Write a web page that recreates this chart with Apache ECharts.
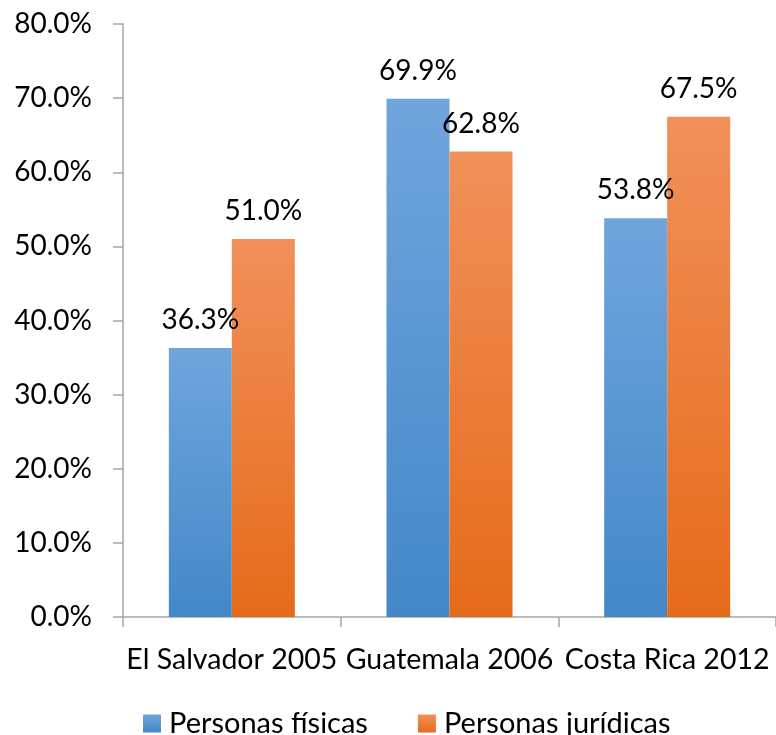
<!DOCTYPE html>
<html>
<head>
<meta charset="utf-8">
<script src="https://cdn.jsdelivr.net/npm/echarts@6/dist/echarts.min.js"></script>
<style>html,body{margin:0;padding:0;background:#fff}#c{width:776px;height:735px}</style>
</head>
<body>
<div id="c"></div>
<script>
var categories = ['El Salvador 2005', 'Guatemala 2006', 'Costa Rica 2012'];
var fisicas = [36.3, 69.9, 53.8];
var juridicas = [51.0, 62.8, 67.5];
var seriesNames = ['Personas físicas', 'Personas jurídicas'];

var FONT = 'Lato';
function grad(top, bottom) {
  return new echarts.graphic.LinearGradient(0, 0, 0, 1, [
    {offset: 0, color: top}, {offset: 1, color: bottom}
  ]);
}
var chart = echarts.init(document.getElementById('c'), null, {renderer: 'canvas'});
var labelOpt = {
  show: true, position: 'top', distance: 14,
  fontFamily: FONT, fontSize: 28, color: '#000',
  formatter: function (p) { return p.value.toFixed(1) + '%'; }
};
chart.setOption({
  animation: false,
  grid: {left: 123, right: -4, top: 24, bottom: 118},
  legend: {
    top: 704, left: 138, itemWidth: 18, itemHeight: 18, itemGap: 50,
    icon: 'rect',
    textStyle: {fontFamily: FONT, fontSize: 29, color: '#000', padding: [0, 0, 0, 3]},
    data: seriesNames
  },
  xAxis: {
    type: 'category', data: categories,
    axisLine: {lineStyle: {color: '#a6a6a6', width: 1.5}},
    axisTick: {show: true, length: 10, lineStyle: {color: '#a6a6a6', width: 1.5}},
    axisLabel: {fontFamily: FONT, fontSize: 28.5, color: '#000', margin: 28, interval: 0, hideOverlap: false}
  },
  yAxis: {
    type: 'value', min: 0, max: 80, interval: 10,
    axisLine: {show: true, lineStyle: {color: '#a6a6a6', width: 1.5}},
    axisTick: {show: true, length: 10, lineStyle: {color: '#a6a6a6', width: 1.5}},
    splitLine: {show: false},
    axisLabel: {fontFamily: FONT, fontSize: 28, color: '#000', margin: 31,
      formatter: function (v) { return v.toFixed(1) + '%'; }}
  },
  series: [
    {name: seriesNames[0], type: 'bar', data: fisicas, barWidth: 63, barGap: '0%',
      itemStyle: {color: grad('#70a5dc', '#4388c8')}, label: labelOpt},
    {name: seriesNames[1], type: 'bar', data: juridicas, barWidth: 63, barGap: '0%',
      itemStyle: {color: grad('#f1905a', '#e56b1a')}, label: labelOpt}
  ]
});
</script>
</body>
</html>
